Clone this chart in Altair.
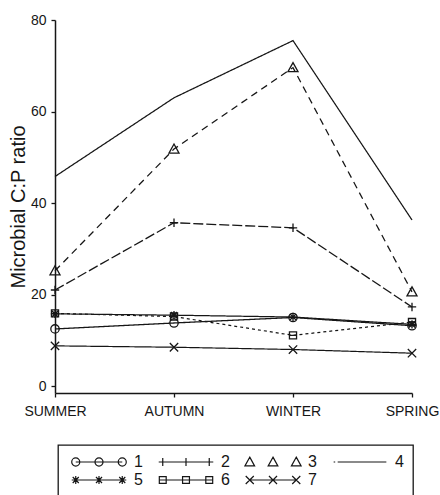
import altair as alt
import pandas as pd

# Seasons along the x axis
seasons = ["SUMMER", "AUTUMN", "WINTER", "SPRING"]

# Microbial C:P ratio per treatment, in season order
s1 = [12.5, 13.8, 15.0, 13.2]
s2 = [21.0, 35.7, 34.6, 17.3]
s3 = [25.2, 51.8, 69.6, 20.6]
s4 = [45.8, 63.0, 75.5, 36.3]
s5 = [15.8, 15.5, 15.1, 13.5]
s6 = [15.9, 15.2, 11.1, 14.0]
s7 = [8.8, 8.5, 8.0, 7.2]

names = ["1", "2", "3", "4", "5", "6", "7"]
series = [s1, s2, s3, s4, s5, s6, s7]

rows = []
for name, vals in zip(names, series):
    for season, v in zip(seasons, vals):
        rows.append({"series": name, "season": season, "ratio": v})
df = pd.DataFrame(rows)


# ---- marker outlines as SVG path fragments (unit box, y down) ----
def f(v):
    return f"{v:.3f}"


def circle(cx, r):
    return (f"M{f(cx - r)},0A{f(r)},{f(r)} 0 1,0 {f(cx + r)},0"
            f"A{f(r)},{f(r)} 0 1,0 {f(cx - r)},0Z")


def plus(cx, r):
    return f"M{f(cx - r)},0H{f(cx + r)}M{f(cx)},{f(-r)}V{f(r)}"


def triangle(cx, r):
    r = 1.2 * r
    return (f"M{f(cx)},{f(-r)}L{f(cx + r)},{f(0.8 * r)}"
            f"L{f(cx - r)},{f(0.8 * r)}Z")


def square(cx, r):
    r = 0.85 * r
    return (f"M{f(cx - r)},{f(-r)}H{f(cx + r)}V{f(r)}H{f(cx - r)}Z"
            f"M{f(cx - r)},0H{f(cx + r)}")


def cross(cx, r):
    return (f"M{f(cx - r)},{f(-r)}L{f(cx + r)},{f(r)}"
            f"M{f(cx - r)},{f(r)}L{f(cx + r)},{f(-r)}")


def star(cx, r):
    d = 0.75 * r
    return (plus(cx, r) + f"M{f(cx - d)},{f(-d)}L{f(cx + d)},{f(d)}"
            f"M{f(cx - d)},{f(d)}L{f(cx + d)},{f(-d)}")


marker_fns = {"1": circle, "2": plus, "3": triangle, "5": star,
              "6": square, "7": cross}

# single markers for the plotted points
point_names = ["1", "2", "3", "5", "6", "7"]
point_paths = [marker_fns[n](0, 1) for n in point_names]

# composite legend symbols: marker - line - marker - line - marker
legend_paths = []
for n in names:
    if n == "4":
        legend_paths.append("M-0.85,0H-0.8M-0.72,0H0.85")
        continue
    fn = marker_fns[n]
    r = 0.13
    p = "".join(fn(cx, r) for cx in (-0.75, 0.0, 0.75))
    if n != "3":
        p = "M-0.75,0H0.75" + p
    legend_paths.append(p)

dashes = [[1, 0], [10, 3], [7, 5], [1, 0], [1, 0], [3, 3], [1, 0]]
widths = [1.3, 1.2, 1.4, 1.5, 2.2, 1.2, 1.2]

ink = "#161616"
font = "Liberation Sans"

x_enc = alt.X(
    "season:N",
    sort=seasons,
    scale=alt.Scale(domain=seasons, type="point", padding=0),
    axis=alt.Axis(title=None, labelAngle=0, labelFont=font,
                  labelFontSize=14, labelColor=ink, labelPadding=7,
                  tickSize=4, tickColor=ink, domainColor=ink,
                  domainWidth=1.5, tickWidth=1.3),
)
y_enc = alt.Y(
    "ratio:Q",
    scale=alt.Scale(domain=[-1.5, 80], nice=False, zero=False),
    axis=alt.Axis(title="Microbial C:P ratio", values=[0, 20, 40, 60, 80],
                  grid=False, labelFont=font, labelFontSize=14,
                  labelColor=ink, labelPadding=5, tickSize=4,
                  tickColor=ink, domainColor=ink, domainWidth=1.5,
                  tickWidth=1.3, titleFont=font, titleFontSize=20,
                  titleFontWeight="normal", titleColor=ink,
                  titlePadding=2),
)

lines = alt.Chart(df).mark_line(color=ink).encode(
    x=x_enc,
    y=y_enc,
    detail="series:N",
    strokeDash=alt.StrokeDash("series:N",
                              scale=alt.Scale(domain=names, range=dashes),
                              legend=None),
    strokeWidth=alt.StrokeWidth("series:N",
                                scale=alt.Scale(domain=names, range=widths),
                                legend=None),
)

points = alt.Chart(df).transform_filter(
    alt.datum.series != "4"
).mark_point(filled=False, color=ink, strokeWidth=1.3, size=70,
             opacity=1).encode(
    x=x_enc,
    y=y_enc,
    shape=alt.Shape("series:N",
                    scale=alt.Scale(domain=point_names, range=point_paths),
                    legend=None),
)

# invisible layer that only carries the key
key = alt.Chart(df).mark_point(filled=False, color=ink, opacity=0).encode(
    x=x_enc,
    y=y_enc,
    shape=alt.Shape(
        "series:N",
        scale=alt.Scale(domain=names, range=legend_paths),
        legend=alt.Legend(
            title=None, orient="none", legendX=3, legendY=425,
            direction="horizontal", columns=4, padding=9,
            strokeColor=ink, clipHeight=16,
            symbolSize=3844, symbolStrokeColor=ink,
            symbolFillColor="transparent", symbolStrokeWidth=1.2,
            symbolOpacity=1, labelFont=font, labelFontSize=16,
            labelColor=ink, labelOffset=3, columnPadding=11,
            rowPadding=2,
        ),
    ),
)

chart = alt.layer(lines, points, key).resolve_scale(
    shape="independent"
).properties(
    width=357,
    height=373,
    autosize=alt.AutoSizeParams(type="none"),
    padding={"left": 55, "top": 20, "right": 28, "bottom": 102},
    background="white",
).configure_view(stroke=None).configure_legend(strokeWidth=1.3)

chart.save("out.html", embed_options={"renderer": "svg", "actions": False})
